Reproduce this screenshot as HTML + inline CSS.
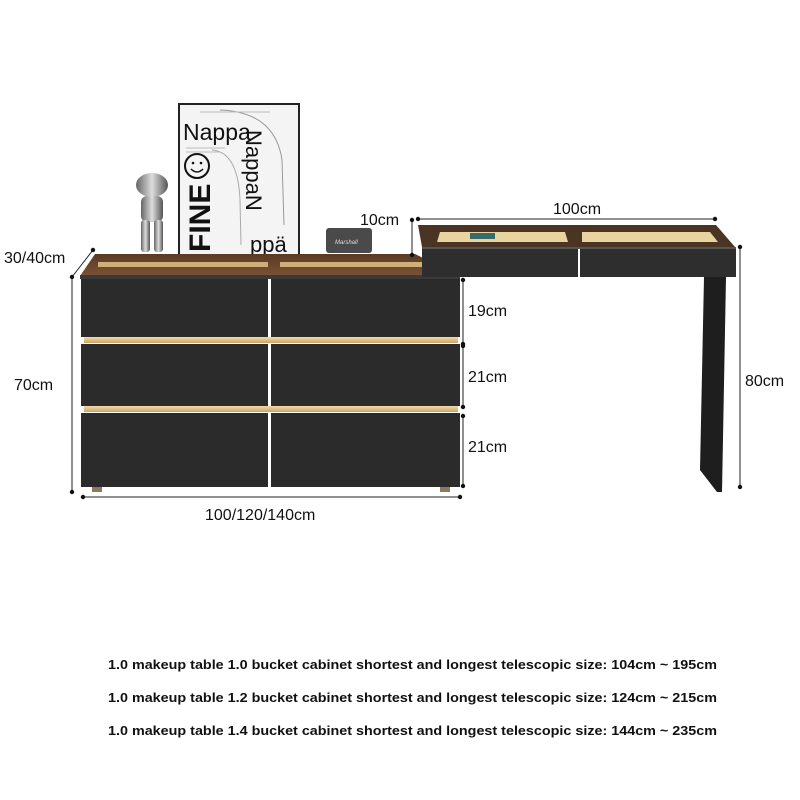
<!DOCTYPE html>
<html><head><meta charset="utf-8">
<style>
html,body{margin:0;padding:0;background:#fff;width:800px;height:800px;overflow:hidden}
svg{display:block}
text{font-family:"Liberation Sans",sans-serif}
</style></head><body>
<svg width="800" height="800" viewBox="0 0 800 800" xmlns="http://www.w3.org/2000/svg">
<defs>
<linearGradient id="top" x1="0" y1="0" x2="0" y2="1">
<stop offset="0" stop-color="#5a3a22"/><stop offset="1" stop-color="#7a5334"/></linearGradient>
<linearGradient id="silver" x1="0" y1="0" x2="1" y2="0">
<stop offset="0" stop-color="#666"/><stop offset=".5" stop-color="#ddd"/><stop offset="1" stop-color="#555"/></linearGradient>
<linearGradient id="glow" x1="0" y1="0" x2="0" y2="1">
<stop offset="0" stop-color="#f3dba8"/><stop offset="1" stop-color="#c9a468"/></linearGradient>
</defs>

<!-- poster -->
<rect x="179" y="104" width="120" height="151" fill="#f4f4f4" stroke="#222" stroke-width="2"/>
<text x="183" y="140" font-size="23" fill="#111">Nappa</text>
<text x="0" y="0" font-size="30" font-weight="bold" fill="#111" transform="translate(210,252) rotate(-90)">FINE</text>
<circle cx="197" cy="166" r="12" fill="none" stroke="#111" stroke-width="2"/>
<circle cx="193" cy="163" r="1.3" fill="#111"/><circle cx="201" cy="163" r="1.3" fill="#111"/>
<path d="M191 169 Q197 175 203 169" fill="none" stroke="#111" stroke-width="1.5"/>
<text x="0" y="0" font-size="22" fill="#111" transform="translate(246,130) rotate(90)">NappaN</text>
<text x="250" y="252" font-size="22" fill="#111">ppä</text>
<path d="M220 110 Q275 112 282 160 L284 225" fill="none" stroke="#999" stroke-width="1"/>
<path d="M212 150 Q238 152 240 200 L241 245" fill="none" stroke="#aaa" stroke-width="1"/>
<g stroke="#bbb" stroke-width="1"><line x1="200" y1="112" x2="270" y2="112"/><line x1="186" y1="148" x2="225" y2="148"/><line x1="186" y1="152" x2="220" y2="152"/></g>

<!-- figure -->
<g fill="url(#silver)">
<ellipse cx="152" cy="185" rx="16" ry="12"/>
<rect x="141" y="196" width="22" height="26" rx="6"/>
<rect x="141" y="220" width="9" height="32" rx="3"/>
<rect x="154" y="220" width="9" height="32" rx="3"/>
</g>
<!-- speaker -->
<rect x="326" y="228" width="46" height="25" rx="3" fill="#4a4a4a"/>
<text x="335" y="244" font-size="6" fill="#ddd" font-style="italic">Marshall</text>

<!-- cabinet top -->
<polygon points="95,254 415,254 460,276 80,276" fill="url(#top)"/>
<rect x="98" y="262" width="170" height="5" fill="#e8c98f" opacity=".8"/>
<rect x="280" y="262" width="150" height="5" fill="#e8c98f" opacity=".8"/>
<rect x="80" y="275" width="380" height="4" fill="#3a3a3a"/>
<!-- drawers -->
<g fill="#2b2b2b">
<rect x="81" y="279" width="187" height="58"/><rect x="271" y="279" width="189" height="58"/>
<rect x="81" y="344" width="187" height="62"/><rect x="271" y="344" width="189" height="62"/>
<rect x="81" y="413" width="187" height="74"/><rect x="271" y="413" width="189" height="74"/>
</g>
<rect x="84" y="337" width="374" height="6" fill="url(#glow)"/>
<rect x="84" y="406" width="374" height="6" fill="url(#glow)"/>
<rect x="92" y="487" width="10" height="5" fill="#8a7a60"/>
<rect x="440" y="487" width="10" height="5" fill="#8a7a60"/>

<!-- desk -->
<polygon points="418,225 716,225 735,247 422,247" fill="#4a3524"/>
<polygon points="440,232 565,232 568,242 437,242" fill="#e9d39f"/>
<polygon points="582,232 710,232 718,242 582,242" fill="#e9d39f"/>
<rect x="470" y="233" width="25" height="6" fill="#3a6a6a"/>
<rect x="422" y="247" width="156" height="30" fill="#2e2e2e"/>
<rect x="580" y="247" width="156" height="30" fill="#2e2e2e"/>
<rect x="422" y="247" width="314" height="2" fill="#555"/>
<polygon points="704,277 726,277 722,492 717,492 700,470" fill="#1e1e1e"/>

<!-- dimension lines -->
<g stroke="#222" stroke-width="1" fill="none">
<line x1="72" y1="277" x2="93" y2="250"/>
<line x1="72" y1="277" x2="72" y2="492"/>
<line x1="83" y1="497" x2="460" y2="497"/>
<line x1="463" y1="280" x2="463" y2="344"/>
<line x1="463" y1="346" x2="463" y2="407"/>
<line x1="463" y1="416" x2="463" y2="486"/>
<line x1="412" y1="220" x2="412" y2="255"/>
<line x1="418" y1="219" x2="715" y2="219"/>
<line x1="740" y1="247" x2="740" y2="487"/>
</g>
<g fill="#111">
<circle cx="72" cy="277" r="2.2"/><circle cx="93" cy="250" r="2.2"/><circle cx="72" cy="492" r="2.2"/>
<circle cx="83" cy="497" r="2.2"/><circle cx="460" cy="497" r="2.2"/>
<circle cx="463" cy="280" r="2.2"/><circle cx="463" cy="344" r="2.2"/>
<circle cx="463" cy="346" r="2.2"/><circle cx="463" cy="407" r="2.2"/>
<circle cx="463" cy="416" r="2.2"/><circle cx="463" cy="486" r="2.2"/>
<circle cx="412" cy="220" r="2.2"/><circle cx="412" cy="255" r="2.2"/>
<circle cx="418" cy="219" r="2.2"/><circle cx="715" cy="219" r="2.2"/>
<circle cx="740" cy="247" r="2.2"/><circle cx="740" cy="487" r="2.2"/>
</g>
<g font-size="16" fill="#111">
<text x="4" y="263">30/40cm</text>
<text x="14" y="390">70cm</text>
<text x="205" y="520">100/120/140cm</text>
<text x="468" y="316">19cm</text>
<text x="468" y="382">21cm</text>
<text x="468" y="452">21cm</text>
<text x="360" y="225">10cm</text>
<text x="553" y="214">100cm</text>
<text x="745" y="386">80cm</text>
</g>

<g font-size="13" font-weight="bold" fill="#111">
<text x="108" y="669" textLength="609" lengthAdjust="spacingAndGlyphs">1.0 makeup table 1.0 bucket cabinet shortest and longest telescopic size: 104cm ~ 195cm</text>
<text x="108" y="702" textLength="609" lengthAdjust="spacingAndGlyphs">1.0 makeup table 1.2 bucket cabinet shortest and longest telescopic size: 124cm ~ 215cm</text>
<text x="108" y="735" textLength="609" lengthAdjust="spacingAndGlyphs">1.0 makeup table 1.4 bucket cabinet shortest and longest telescopic size: 144cm ~ 235cm</text>
</g>
</svg>
</body></html>
